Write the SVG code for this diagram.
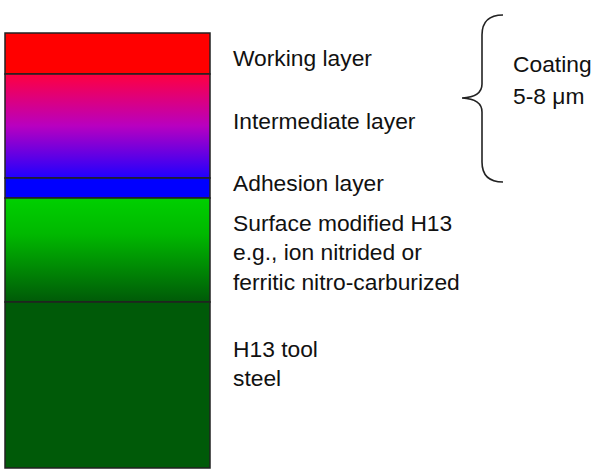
<svg xmlns="http://www.w3.org/2000/svg" width="601" height="472" viewBox="0 0 601 472">
<style>
text{font-family:"Liberation Sans",Arial,sans-serif;font-size:22.8px;fill:#111}
.l{stroke:#222;stroke-width:1.5}
</style>
<defs>
<linearGradient id="g1" x1="0" y1="0" x2="0" y2="1"><stop offset="0" stop-color="#ff0040"/><stop offset="0.5" stop-color="#b800c0"/><stop offset="1" stop-color="#2000ff"/></linearGradient>
<linearGradient id="g2" x1="0" y1="0" x2="0" y2="1"><stop offset="0" stop-color="#00d000"/><stop offset="0.35" stop-color="#00b800"/><stop offset="1" stop-color="#005a08"/></linearGradient>
</defs>
<rect width="601" height="472" fill="#fff"/>
<g id="working"><rect class="l" x="5" y="33" width="205" height="41" fill="#ff0000"/><text x="233" y="66">Working layer</text></g>
<g id="intermediate"><rect class="l" x="5" y="74" width="205" height="104" fill="url(#g1)"/><text x="233" y="129">Intermediate layer</text></g>
<g id="adhesion"><rect class="l" x="5" y="178" width="205" height="20" fill="#0000ff"/><text x="233" y="191">Adhesion layer</text></g>
<g id="surface"><rect class="l" x="5" y="198" width="205" height="104" fill="url(#g2)"/><text x="233" y="231">Surface modified H13</text><text x="233" y="260">e.g., ion nitrided or</text><text x="233" y="290">ferritic nitro-carburized</text></g>
<g id="steel"><rect class="l" x="5" y="302" width="205" height="166" fill="#005a08"/><text x="233" y="357">H13 tool</text><text x="233" y="386">steel</text></g>
<g id="coating"><path d="M503,15 Q482,15 482,35 L482,84 Q482,97 462,98 Q482,99 482,112 L482,162 Q482,182 503,182" fill="none" stroke="#222" stroke-width="1.6"/><text x="513" y="72">Coating</text><text x="513" y="104">5-8 μm</text></g>
</svg>
